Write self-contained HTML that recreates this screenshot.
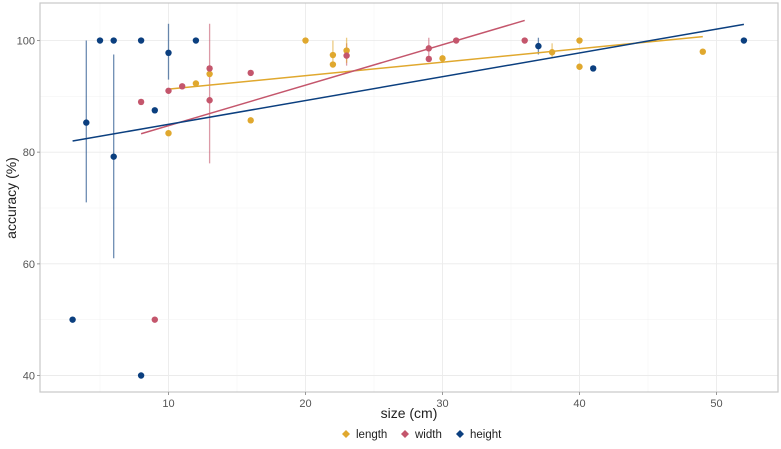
<!DOCTYPE html>
<html><head><meta charset="utf-8"><style>
body{margin:0;background:#fff;font-family:"Liberation Sans",sans-serif}
</style></head><body>
<svg id="c" width="781" height="444" xmlns="http://www.w3.org/2000/svg"></svg>
<script>
const xTicks=[10,20,30,40,50];
const yTicks=[40,60,80,100];
const seriesNames=["length","width","height"];
const seriesColors=["#e0a82e","#c4566c","#0b3f7f"];
const lenX=[10,12,13,16,20,22,22,23,30,38,40,40,49];
const lenY=[83.4,92.3,94,85.7,100,97.4,95.7,98.2,96.8,97.9,100,95.3,98];
const widX=[8,9,10,11,13,13,16,23,29,29,31,36];
const widY=[89,50,91,91.8,95,89.3,94.2,97.3,98.6,96.7,100,100];
const hgtX=[3,4,5,6,6,8,8,9,10,12,37,41,52];
const hgtY=[50,85.3,100,100,79.2,100,40,87.5,97.8,100,99,95,100];
// error bars: [series, x, low, high]
const errSeries=[2,2,2,2,1,1,1,0,0,0];
const errX=[4,6,10,37,13,23,29,22,23,38];
const errLo=[71,61,93,97.5,78,95.5,96.7,95.7,96,97];
const errHi=[100,97.5,103,100.5,103,99.5,100.5,100,100.5,99.5];
// fit lines: start x, end x, start y, end y
const fitX0=[10,8,3];
const fitX1=[49,36,52];
const fitY0=[91.3,83.3,82];
const fitY1=[100.7,103.6,102.9];

const L=40,R=778,T=3,B=392;
const sx=v=>168.5+(v-10)*13.7;
const sy=v=>375.5-(v-40)*5.583;
const svg=document.getElementById('c');
const NS="http://www.w3.org/2000/svg";
function mk(t,a,p){const e=document.createElementNS(NS,t);for(const k in a)e.setAttribute(k,a[k]);(p||svg).appendChild(e);return e;}
// grid
for(let v=5;v<=55;v+=5){const x=sx(v);if(x>L&&x<R){const g=mk('line',{x1:x,x2:x,y1:T,y2:B,stroke:v%10?'#f3f3f3':'#ebebeb','stroke-width':v%10?0.6:0.9});}}
for(let v=30;v<=110;v+=10){const y=sy(v);if(y>T&&y<B){const g=mk('line',{x1:L,x2:R,y1:y,y2:y,stroke:v%20?'#f3f3f3':'#ebebeb','stroke-width':v%20?0.6:0.9});}}
const fr=mk('rect',{x:L,y:T,width:R-L,height:B-T,fill:'none',stroke:'#c8c8c8','stroke-width':1.2});


xTicks.forEach(v=>{const x=sx(v);mk('line',{x1:x,x2:x,y1:B,y2:B+3,stroke:'#999'});const t=mk('text',{x:x,y:B+15,'text-anchor':'middle','font-size':11,fill:'#555'});t.textContent=v;});
yTicks.forEach(v=>{const y=sy(v);mk('line',{x1:L-3,x2:L,y1:y,y2:y,stroke:'#999'});const t=mk('text',{x:L-5,y:y+4,'text-anchor':'end','font-size':11,fill:'#555'});t.textContent=v;});
let t=mk('text',{x:409,y:418,'text-anchor':'middle','font-size':14,fill:'#222'});t.textContent='size (cm)';

t=mk('text',{x:16,y:198,'text-anchor':'middle','font-size':14,fill:'#222',transform:'rotate(-90 16 198)'});t.textContent='accuracy (%)';

// error bars
errX.forEach((x,i)=>{const e=mk('line',{x1:sx(x),x2:sx(x),y1:sy(errLo[i]),y2:sy(errHi[i]),stroke:seriesColors[errSeries[i]],'stroke-opacity':0.6,'stroke-width':1.3});});
// fit lines
fitX0.forEach((x,i)=>{const e=mk('line',{x1:sx(x),x2:sx(fitX1[i]),y1:sy(fitY0[i]),y2:sy(fitY1[i]),stroke:seriesColors[i],'stroke-width':1.5});});
// points
[[lenX,lenY],[widX,widY],[hgtX,hgtY]].forEach((s,i)=>{s[0].forEach((x,j)=>{const c=mk('circle',{cx:sx(x),cy:sy(s[1][j]),r:3.2,fill:seriesColors[i]});});});
// legend
const lx=[346,405,460];
seriesNames.forEach((n,i)=>{const g=mk('g',{});
mk('path',{d:`M${lx[i]-4} 434 l4 -4 l4 4 l-4 4z`,fill:seriesColors[i]},g);
const tt=mk('text',{x:lx[i]+10,y:438,'font-size':11.5,fill:'#222'},g);tt.textContent=n;});
</script>
</body></html>
